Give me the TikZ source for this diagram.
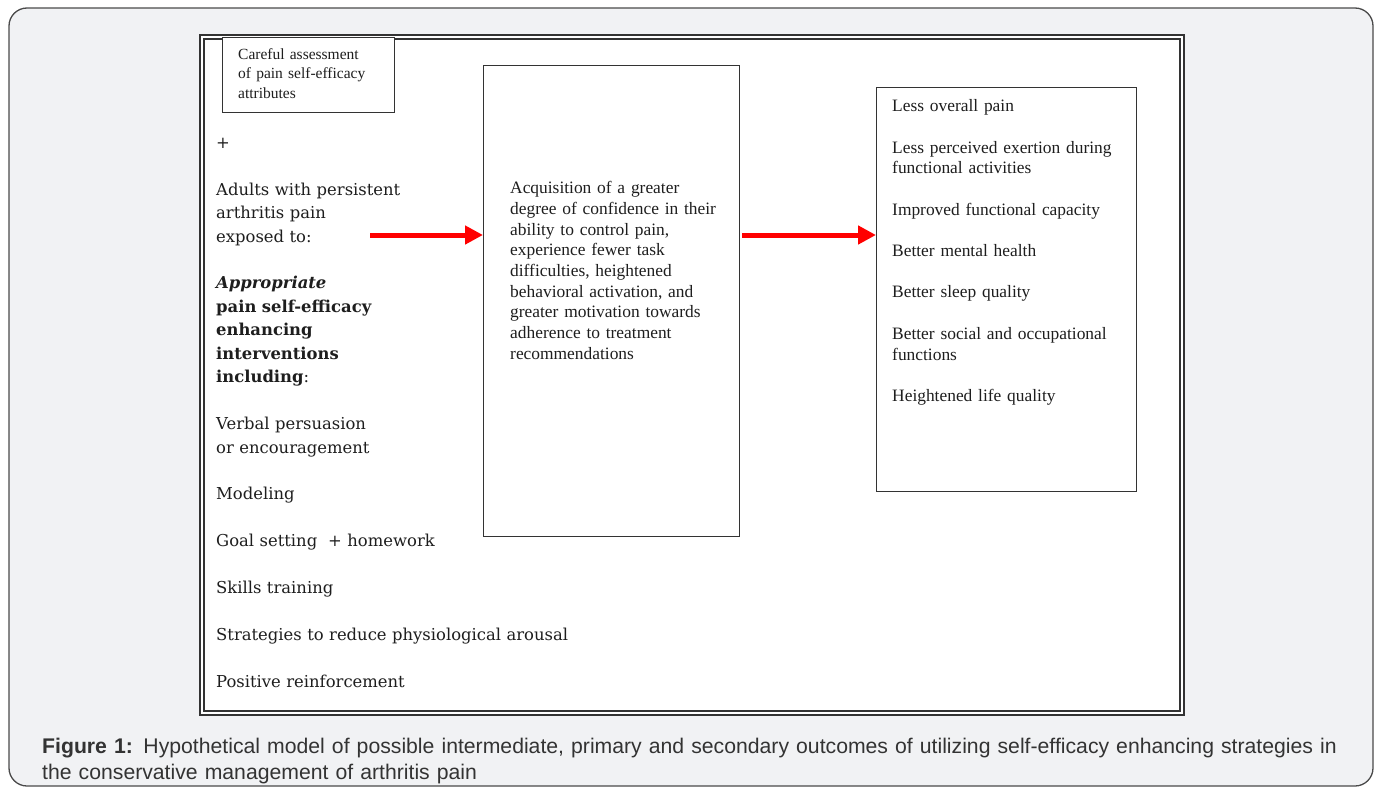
\documentclass[tikz,border=0pt]{standalone}
\usepackage{fontspec}
\setmainfont{Liberation Serif}
\newfontfamily\colfont{DejaVu Serif}
\newfontfamily\capfont{Liberation Sans}
\usetikzlibrary{arrows.meta, positioning}
\definecolor{framefill}{HTML}{F1F2F4}
\definecolor{framedraw}{HTML}{4A4A4A}
\definecolor{boxdraw}{HTML}{333333}
\definecolor{ink}{HTML}{1E1E1E}
\definecolor{capink}{HTML}{333333}
\tikzset{
  panel/.style = {
    rectangle,
    draw=boxdraw,
    fill=white,
    line width=1.2pt,
    inner sep=0pt,
    anchor=north west
  },
  para/.style = {
    inner sep=0pt,
    anchor=north west,
    align=left,
    text=ink
  },
  timespar/.style = {
    para,
    font=\fontsize{17.4}{20.7}\selectfont
  },
  leftpar/.style = {
    para,
    text width=420pt,
    font=\colfont\fontsize{16.4}{23.45}\selectfont
  },
  captionpar/.style = {
    para,
    text width=1340pt,
    text=capink,
    font=\capfont\fontsize{21.2}{26}\selectfont
  },
  redarrow/.style = {
    draw=red,
    line width=5pt,
    -{Triangle[length=18pt,width=18pt]}
  }
}

\begin{document}
\begin{tikzpicture}[x=1pt, y=-1pt]
\useasboundingbox (0,0) rectangle (1378,787);

% ===== Moldura e caixa dupla =====
\draw [draw=framedraw, fill=framefill, line width=1.3pt, rounded corners=18pt] (9,8) rectangle (1373,786);
\draw [draw=boxdraw, fill=white, line width=1.2pt] (200,35) rectangle (1184,715);
\draw [draw=boxdraw, line width=1.2pt] (204,39) rectangle (1180,711);

% ===== Caixas =====
\node (assess) [panel, minimum width=172pt, minimum height=75pt] at (222,37) {};
\node (mid) [panel, minimum width=256pt, minimum height=471pt] at (483,65) {};
\node (outc) [panel, minimum width=260pt, minimum height=404pt] at (876,87) {};

% ===== Textos =====
\node (assesstext) [para, text width=160pt, font=\fontsize{15.5}{19.5}\selectfont] at (238,45.3)
  {\strut Careful assessment\\ of pain self-efficacy\\ attributes};

\node (interv) [leftpar] at (216,131.6) {\strut +\\
  ~\\
  Adults with persistent\\
  arthritis pain\\
  exposed to:\\
  ~\\
  \textbf{\textit{Appropriate}}\\
  \textbf{pain self-efficacy}\\
  \textbf{enhancing}\\
  \textbf{interventions}\\
  \textbf{including}:\\
  ~\\
  Verbal persuasion\\
  or encouragement\\
  ~\\
  Modeling\\
  ~\\
  Goal setting \ + homework\\
  ~\\
  Skills training\\
  ~\\
  Strategies to reduce physiological arousal\\
  ~\\
  Positive reinforcement};

\node (midtext) [timespar, text width=235pt] at (510,179) {\strut Acquisition of a greater\\
  degree of confidence in their\\
  ability to control pain,\\
  experience fewer task\\
  difficulties, heightened\\
  behavioral activation, and\\
  greater motivation towards\\
  adherence to treatment\\
  recommendations};

\node (outctext) [timespar, text width=240pt] at (892,97) {\strut Less overall pain\\
  ~\\
  Less perceived exertion during\\
  functional activities\\
  ~\\
  Improved functional capacity\\
  ~\\
  Better mental health\\
  ~\\
  Better sleep quality\\
  ~\\
  Better social and occupational\\
  functions\\
  ~\\
  Heightened life quality};

% ===== Setas =====
\coordinate (a1) at (370,235);
\coordinate (a2) at (742,235);
\draw [redarrow] (a1) -- (mid.west |- a1);
\draw [redarrow] (a2) -- (outc.west |- a2);

% ===== Legenda =====
\node (caption) [captionpar] at (42,734.8) {\strut\textbf{Figure 1:} Hypothetical model of possible intermediate, primary and secondary outcomes of utilizing self-efficacy enhancing strategies in\\
  the conservative management of arthritis pain};

\end{tikzpicture}
\end{document}
